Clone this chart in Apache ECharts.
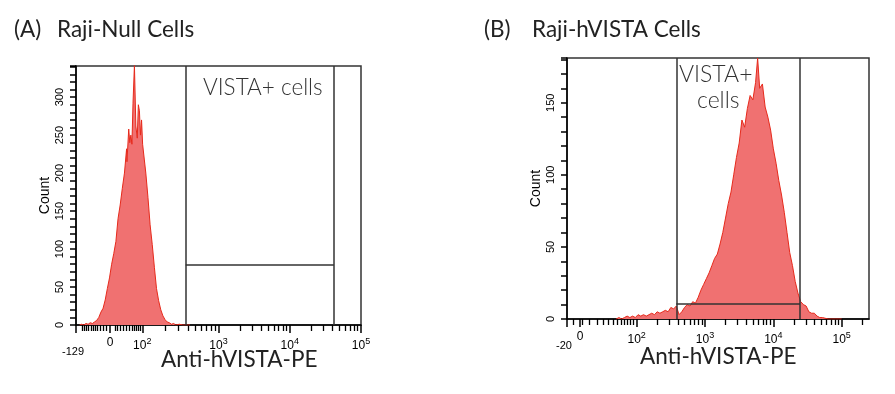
<!DOCTYPE html>
<html><head><meta charset="utf-8">
<script src="https://cdn.jsdelivr.net/npm/echarts@6/dist/echarts.min.js"></script>
<style>html,body{margin:0;padding:0;background:#fff}#c{width:895px;height:394px}</style>
</head><body><div id="c"></div>
<script>
// ---------- DATA ----------
// Panel A (Raji-Null): x = display position in decade units (biexponential axis), y = count
const histA_x = [1.05,1.08,1.11,1.14,1.17,1.20,1.23,1.26,1.29,1.32,1.35,1.38,1.41,1.44,1.47,1.50,1.53,1.56,1.59,1.62,1.65,1.68,1.71,1.715,1.74,1.755,1.77,1.785,1.80,1.82,1.84,1.86,1.875,1.89,1.905,1.92,1.935,1.95,1.98,2.01,2.04,2.07,2.10,2.13,2.16,2.19,2.22,2.25,2.28,2.31,2.34,2.37,2.40,2.45,2.50,2.60];
const histA_y = [0,1,0,2,1,3,2,4,6,10,17,22,33,48,62,80,94,110,140,158,180,200,232,215,258,240,250,238,292,342,262,246,290,282,250,270,238,236,200,168,132,106,76,48,32,20,12,7,4,3,1,2,0,1,0,0];
// Panel B (Raji-hVISTA)
const histB_x = [1.70,1.74,1.78,1.82,1.86,1.90,1.94,1.98,2.02,2.06,2.10,2.14,2.18,2.22,2.26,2.30,2.34,2.38,2.42,2.46,2.50,2.54,2.58,2.62,2.66,2.70,2.74,2.78,2.82,2.86,2.90,2.94,2.98,3.02,3.06,3.10,3.14,3.18,3.22,3.26,3.30,3.34,3.38,3.42,3.46,3.50,3.54,3.58,3.62,3.66,3.70,3.74,3.77,3.80,3.84,3.88,3.92,3.96,4.00,4.04,4.08,4.12,4.16,4.20,4.24,4.28,4.32,4.36,4.40,4.44,4.48,4.52,4.56,4.60,4.64,4.68,4.72,4.80,5.00];
const histB_y = [0,1,0,1,2,1,2,1,3,2,3,2,3,4,3,5,4,5,6,5,8,7,9,3,5,8,10,9,12,11,15,20,24,28,32,37,42,45,52,60,70,80,88,100,112,122,138,133,146,155,152,164,181,160,163,147,140,131,118,108,96,86,74,60,46,37,26,18,12,10,9,5,4,4,2,1,1,0,0];

// Gates: [left x, right x, horizontal-bar count]
const gateA = [2.54, 4.62, 79];
const gateB = [2.58, 4.39, 10.4];

// Axes
const xRangeA = [1.0, 5.0];
const xRangeB = [0.98, 5.40];
const yMaxA = 341, yMaxB = 181;
const tickValsA = [1.0, 1.48, 1.93, 3, 4, 5];
const tickLabelsA = ['-129', '0', '10^2', '10^3', '10^4', '10^5'];
const tickValsB = [0.98, 1.17, 2, 3, 4, 5];
const tickLabelsB = ['-20', '0', '10^2', '10^3', '10^4', '10^5'];
const minorLinA = [1.084,1.112,1.140,1.168,1.211,1.239,1.267,1.295,1.337,1.379,1.421,1.547,1.575,1.617,1.659,1.702,1.744,1.786,1.814,1.842,1.870,1.898];
const minorLinB = [1.067,1.199,1.302,1.419,1.507,1.580,1.653,1.712,1.770,1.814,1.858,1.902,1.946];
const logK = [2,3,4,5,6,7,8,9];

// ---------- BUILD ----------
function logMinors(decStarts, decWidths, hi) {
  const out = [];
  decStarts.forEach((s, i) => logK.forEach(k => {
    const v = s + Math.log10(k) * decWidths[i];
    if (v < hi) out.push(+v.toFixed(3));
  }));
  return out;
}
const minorA = minorLinA.concat(logMinors([1.93, 3, 4], [1.07, 1, 1], 5));
const minorB = minorLinB.concat(logMinors([2, 3, 4, 5], [1, 1, 1, 1], 5.4));

function labelFmt(vals, labels) {
  return function (v) {
    let bi = 0, bd = 1e9;
    vals.forEach((t, i) => { const d = Math.abs(t - v); if (d < bd) { bd = d; bi = i; } });
    const s = labels[bi];
    if (s.indexOf('^') > 0) { const p = s.split('^'); return '{b|' + p[0] + '}{s|' + p[1] + '}'; }
    if (s[0] === '-') return '{n|' + s + '}';
    return '{b|' + s + '}';
  };
}
const rich = {
  b: { fontSize: 12, fontFamily: 'Liberation Sans', color: '#000' },
  s: { fontSize: 9, fontFamily: 'Liberation Sans', color: '#000', padding: [0, 0, 8, 0] },
  n: { fontSize: 11, fontFamily: 'Liberation Sans', color: '#000', padding: [9, 6, 0, 0] }
};

function xMain(grid, range, vals, labels) {
  return {
    type: 'value', gridIndex: grid, min: range[0], max: range[1], position: 'bottom',
    axisLine: { show: true, onZero: false, lineStyle: { color: '#000', width: 1.5 } },
    splitLine: { show: false },
    axisTick: { show: true, customValues: vals, length: 8, lineStyle: { color: '#000', width: 1.5 } },
    axisLabel: { customValues: vals, formatter: labelFmt(vals, labels), rich: rich, margin: 12,
      showMinLabel: true, showMaxLabel: true, hideOverlap: false }
  };
}
function xMinor(grid, range, vals) {
  return {
    type: 'value', gridIndex: grid, min: range[0], max: range[1], position: 'bottom',
    axisLine: { show: false }, splitLine: { show: false },
    axisTick: { show: true, customValues: vals, length: 6, lineStyle: { color: '#000', width: 1.3 } },
    axisLabel: { show: false }
  };
}
function yAx(grid, max, gap) {
  return {
    type: 'value', gridIndex: grid, min: 0, max: max, interval: 10,
    name: 'Count', nameLocation: 'middle', nameRotate: 90, nameGap: gap,
    nameTextStyle: { fontFamily: 'Liberation Sans', fontSize: 14, color: '#000' },
    axisLine: { show: true, lineStyle: { color: '#000', width: 1.5 } },
    splitLine: { show: false },
    axisTick: { show: true, length: 6, lineStyle: { color: '#000', width: 1.5 } },
    axisLabel: { rotate: 90, fontFamily: 'Liberation Sans', fontSize: 11, color: '#000', margin: 11,
      formatter: v => (v % 50 === 0 ? String(v) : '') }
  };
}
function hist(xs, ys, xi, yi) {
  return {
    type: 'line', xAxisIndex: xi, yAxisIndex: yi, data: xs.map((x, i) => [x, ys[i]]),
    showSymbol: false, symbol: 'none', smooth: false, z: 2,
    lineStyle: { color: '#e62a1c', width: 1 },
    areaStyle: { color: '#f07171', opacity: 1 }
  };
}
function gate(g, yMax, xi, yi) {
  return {
    type: 'line', xAxisIndex: xi, yAxisIndex: yi, data: [], z: 5,
    markLine: {
      silent: true, symbol: 'none', label: { show: false },
      lineStyle: { color: '#333', width: 1.5, type: 'solid' },
      data: [
        [{ coord: [g[0], 0] }, { coord: [g[0], yMax] }],
        [{ coord: [g[1], 0] }, { coord: [g[1], yMax] }],
        [{ coord: [g[0], g[2]] }, { coord: [g[1], g[2]] }]
      ]
    }
  };
}

const option = {
  animation: false,
  backgroundColor: '#fff',
  grid: [
    { left: 76, top: 66, width: 285, height: 259, show: true, borderColor: '#333', borderWidth: 1.5, backgroundColor: 'transparent' },
    { left: 567, top: 58, width: 302, height: 261, show: true, borderColor: '#333', borderWidth: 1.5, backgroundColor: 'transparent' }
  ],
  xAxis: [
    xMain(0, xRangeA, tickValsA, tickLabelsA), xMinor(0, xRangeA, minorA),
    xMain(1, xRangeB, tickValsB, tickLabelsB), xMinor(1, xRangeB, minorB)
  ],
  yAxis: [yAx(0, yMaxA, 24), yAx(1, yMaxB, 24)],
  series: [
    hist(histA_x, histA_y, 0, 0),
    gate(gateA, yMaxA, 0, 0),
    hist(histB_x, histB_y, 2, 1),
    gate(gateB, yMaxB, 2, 1)
  ],
  graphic: [
    { type: 'text', left: 14, top: 18, style: { text: '(A)', font: '22.5px Lato', fill: '#222' } },
    { type: 'text', left: 57, top: 18, style: { text: 'Raji-Null Cells', font: '22.5px Lato', fill: '#222' } },
    { type: 'text', left: 484, top: 18, style: { text: '(B)', font: '22.5px Lato', fill: '#222' } },
    { type: 'text', left: 532, top: 18, style: { text: 'Raji-hVISTA Cells', font: '22.5px Lato', fill: '#222' } },
    { type: 'text', left: 203, top: 76, style: { text: 'VISTA+ cells', font: '300 22.5px Lato', fill: '#333' } },
    { type: 'text', left: 679, top: 63, style: { text: 'VISTA+', font: '300 23px Lato', fill: '#333' } },
    { type: 'text', left: 697, top: 89, style: { text: 'cells', font: '300 23px Lato', fill: '#333' } },
    { type: 'text', left: 161, top: 348, style: { text: 'Anti-hVISTA-PE', font: '22.5px Lato', fill: '#222' } },
    { type: 'text', left: 640, top: 345, style: { text: 'Anti-hVISTA-PE', font: '22.5px Lato', fill: '#222' } }
  ]
};
const chart = echarts.init(document.getElementById('c'), null, { renderer: 'canvas' });
chart.setOption(option);
</script>
</body></html>
